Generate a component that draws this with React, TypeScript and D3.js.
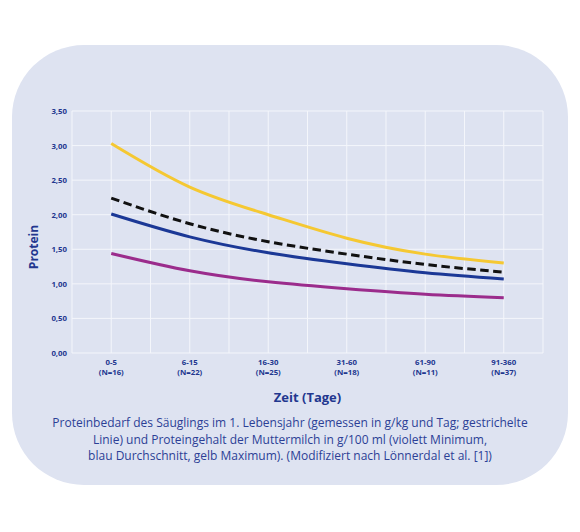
import { useEffect, useRef } from "react"
import * as d3 from "d3"

const categories = ["0-5", "6-15", "16-30", "31-60", "61-90", "91-360"]
const sampleSizes = ["(N=16)", "(N=22)", "(N=25)", "(N=18)", "(N=11)", "(N=37)"]
const yTicks = [0, 0.5, 1, 1.5, 2, 2.5, 3, 3.5]

const maximum = [3.03, 2.4, 2.0, 1.66, 1.43, 1.3]
const requirement = [2.24, 1.87, 1.61, 1.43, 1.28, 1.17]
const average = [2.01, 1.68, 1.45, 1.29, 1.16, 1.07]
const minimum = [1.44, 1.19, 1.03, 0.93, 0.85, 0.8]

const captionLines = [
  "Proteinbedarf des Säuglings im 1. Lebensjahr (gemessen in g/kg und Tag; gestrichelte",
  "Linie) und Proteingehalt der Muttermilch in g/100 ml (violett Minimum,",
  "blau Durchschnitt, gelb Maximum). (Modifiziert nach Lönnerdal et al. [1])",
]

export default function App() {
  const svgRef = useRef<SVGSVGElement | null>(null)

  useEffect(() => {
    if (!svgRef.current) return
    const root = d3.select(svgRef.current)
    root.selectAll("*").remove()

    const plot = { left: 72, right: 543, top: 111, bottom: 353 }
    const navy = "#22378f"

    // card
    root
      .append("rect")
      .attr("x", 12)
      .attr("y", 45)
      .attr("width", 556)
      .attr("height", 440)
      .attr("rx", 72)
      .attr("fill", "#dee3f1")

    const x = d3.scaleBand().domain(categories).range([plot.left, plot.right]).padding(0)
    const y = d3.scaleLinear().domain([0, 3.5]).range([plot.bottom, plot.top])

    // grid
    const grid = root.append("g").attr("stroke", "#f4f6fb").attr("stroke-width", 1)
    yTicks.forEach((t) => {
      grid.append("line").attr("x1", plot.left).attr("x2", plot.right).attr("y1", y(t)).attr("y2", y(t))
    })
    const xs: number[] = []
    categories.forEach((c) => {
      const x0 = x(c) as number
      xs.push(x0, x0 + x.bandwidth() / 2)
    })
    xs.push(plot.right)
    xs.forEach((v) => {
      grid.append("line").attr("x1", v).attr("x2", v).attr("y1", plot.top).attr("y2", plot.bottom)
    })

    // y tick labels
    root
      .append("g")
      .selectAll("text")
      .data(yTicks)
      .enter()
      .append("text")
      .attr("x", 67)
      .attr("y", (d) => y(d) + 3)
      .attr("text-anchor", "end")
      .attr("font-family", "Open Sans")
      .attr("font-size", 7.8)
      .attr("font-weight", 700)
      .attr("fill", navy)
      .text((d) => d.toFixed(2).replace(".", ","))

    // x tick labels
    const xl = root.append("g")
    categories.forEach((c, i) => {
      const cx = (x(c) as number) + x.bandwidth() / 2
      const t = xl
        .append("text")
        .attr("text-anchor", "middle")
        .attr("font-family", "Open Sans")
        .attr("font-size", 7.8)
        .attr("font-weight", 700)
        .attr("fill", navy)
      t.append("tspan").attr("x", cx).attr("y", 365).text(c)
      t.append("tspan").attr("x", cx).attr("y", 374.5).text(sampleSizes[i])
    })

    // axis titles
    root
      .append("text")
      .attr("x", (plot.left + plot.right) / 2)
      .attr("y", 402)
      .attr("text-anchor", "middle")
      .attr("font-family", "Open Sans")
      .attr("font-size", 13)
      .attr("font-weight", 700)
      .attr("fill", navy)
      .text("Zeit (Tage)")

    root
      .append("text")
      .attr("transform", "translate(38,247) rotate(-90)")
      .attr("text-anchor", "middle")
      .attr("font-family", "Open Sans")
      .attr("font-size", 12)
      .attr("font-weight", 700)
      .attr("fill", navy)
      .text("Protein")

    // lines
    const line = d3
      .line<number>()
      .x((_, i) => (x(categories[i]) as number) + x.bandwidth() / 2)
      .y((d) => y(d))
      .curve(d3.curveNatural)

    const series = [
      { values: minimum, color: "#9b2c8c", dash: null },
      { values: average, color: "#1b3896", dash: null },
      { values: maximum, color: "#f5c832", dash: null },
      { values: requirement, color: "#111111", dash: "8.5,4.5" },
    ]
    series.forEach((s) => {
      root
        .append("path")
        .datum(s.values)
        .attr("fill", "none")
        .attr("stroke", s.color)
        .attr("stroke-width", 3)
        .attr("stroke-dasharray", s.dash)
        .attr("d", line)
    })

    // caption
    root
      .append("g")
      .selectAll("text")
      .data(captionLines)
      .enter()
      .append("text")
      .attr("x", 290)
      .attr("y", (_, i) => 427 + i * 16.5)
      .attr("text-anchor", "middle")
      .attr("font-family", "Open Sans")
      .attr("font-size", 12)
      .attr("fill", "#2c3f96")
      .text((d) => d)
  }, [])

  return (
    <svg
      ref={svgRef}
      width={580}
      height={532}
      style={{ position: "absolute", left: 0, top: 0, display: "block", background: "#ffffff" }}
    ></svg>
  )
}
